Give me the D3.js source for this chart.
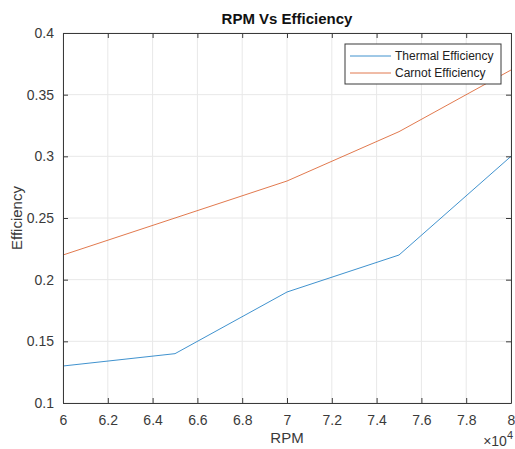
<!DOCTYPE html>
<html>
<head>
<meta charset="utf-8">
<script src="https://cdn.jsdelivr.net/npm/d3@7"></script>
<style>
  body { margin: 0; background: #fff; }
  svg { display: block; font-family: "Liberation Sans", Arial, sans-serif; }
</style>
</head>
<body>
<svg id="chart" width="515" height="449"></svg>
<script>
// data
const rpm = [60000, 65000, 70000, 75000, 80000];
const thermal = [0.13, 0.14, 0.19, 0.22, 0.30];
const carnot = [0.22, 0.25, 0.28, 0.32, 0.37];
const xTicks = [6, 6.2, 6.4, 6.6, 6.8, 7, 7.2, 7.4, 7.6, 7.8, 8];
const yTicks = [0.1, 0.15, 0.2, 0.25, 0.3, 0.35, 0.4];
const seriesNames = ["Thermal Efficiency", "Carnot Efficiency"];
const seriesColors = ["#2a86c8", "#de6a3a"];

const margin = { top: 33, right: 4, bottom: 46, left: 63 };
const width = 515, height = 449;
const svg = d3.select("#chart");

const x = d3.scaleLinear().domain([60000, 80000]).range([margin.left, width - margin.right]);
const y = d3.scaleLinear().domain([0.1, 0.4]).range([height - margin.bottom, margin.top]);

const axisColor = "#3a3a3a";
const tickLen = 5;

// grid
const grid = svg.append("g");
grid.selectAll(".gx").data(xTicks).join("line")
  .attr("x1", d => x(d * 1e4)).attr("x2", d => x(d * 1e4))
  .attr("y1", y(0.1)).attr("y2", y(0.4))
  .attr("stroke", "#e8e8e8").attr("stroke-width", 1);
grid.selectAll(".gy").data(yTicks).join("line")
  .attr("x1", x(60000)).attr("x2", x(80000))
  .attr("y1", d => y(d)).attr("y2", d => y(d))
  .attr("stroke", "#e8e8e8").attr("stroke-width", 1);

// lines
const line = d3.line().x((d, i) => x(rpm[i])).y(d => y(d));
[thermal, carnot].forEach((s, k) => {
  svg.append("path").datum(s)
    .attr("d", line)
    .attr("fill", "none")
    .attr("stroke", seriesColors[k])
    .attr("stroke-width", 0.9);
});

// axes (ticks inward, box on)
const fmtX = d => String(+(d / 1e4).toFixed(1));
const fmtY = d => String(+d.toFixed(2));
const axBottom = svg.append("g").attr("transform", `translate(0,${y(0.1)})`)
  .call(d3.axisBottom(x).tickValues(xTicks.map(d => d * 1e4)).tickFormat(fmtX).tickSizeInner(-tickLen).tickSizeOuter(0).tickPadding(12));
const axTop = svg.append("g").attr("transform", `translate(0,${y(0.4)})`)
  .call(d3.axisTop(x).tickValues(xTicks.map(d => d * 1e4)).tickFormat("").tickSizeInner(-tickLen).tickSizeOuter(0));
const axLeft = svg.append("g").attr("transform", `translate(${x(60000)},0)`)
  .call(d3.axisLeft(y).tickValues(yTicks).tickFormat(fmtY).tickSizeInner(-tickLen).tickSizeOuter(0).tickPadding(9));
const axRight = svg.append("g").attr("transform", `translate(${x(80000)},0)`)
  .call(d3.axisRight(y).tickValues(yTicks).tickFormat("").tickSizeInner(-tickLen).tickSizeOuter(0));

[axBottom, axTop, axLeft, axRight].forEach(g => {
  g.select(".domain").attr("stroke", axisColor).attr("stroke-width", 1);
  g.selectAll(".tick line").attr("stroke", axisColor);
  g.selectAll(".tick text").attr("fill", axisColor).attr("font-size", 14)
    .attr("font-family", "'Liberation Sans', Arial, sans-serif");
});

// labels
svg.append("text").attr("x", (x(60000) + x(80000)) / 2).attr("y", 24)
  .attr("text-anchor", "middle").attr("font-weight", "bold").attr("font-size", 15)
  .attr("fill", "#111").text("RPM Vs Efficiency");
svg.append("text").attr("x", (x(60000) + x(80000)) / 2).attr("y", 443)
  .attr("text-anchor", "middle").attr("font-size", 15).attr("fill", axisColor).text("RPM");
svg.append("text").attr("transform", `translate(22,${(y(0.1) + y(0.4)) / 2}) rotate(-90)`)
  .attr("text-anchor", "middle").attr("font-size", 15).attr("fill", axisColor).text("Efficiency");
const ex = svg.append("text").attr("x", x(80000) + 2).attr("y", 446)
  .attr("text-anchor", "end").attr("font-size", 14).attr("fill", axisColor);
ex.append("tspan").text("\u00d710");
ex.append("tspan").attr("dy", -7).attr("font-size", 11).text("4");

// legend
const lg = svg.append("g").attr("transform", "translate(345,44)");
lg.append("rect").attr("width", 156).attr("height", 40)
  .attr("fill", "#fff").attr("stroke", axisColor).attr("stroke-width", 1);
seriesNames.forEach((n, i) => {
  const yy = 12 + i * 17;
  lg.append("line").attr("x1", 5).attr("x2", 46).attr("y1", yy).attr("y2", yy)
    .attr("stroke", seriesColors[i]).attr("stroke-width", 0.9);
  lg.append("text").attr("x", 50).attr("y", yy + 4)
    .attr("font-size", 12).attr("fill", "#222").text(n);
});
</script>
</body>
</html>
